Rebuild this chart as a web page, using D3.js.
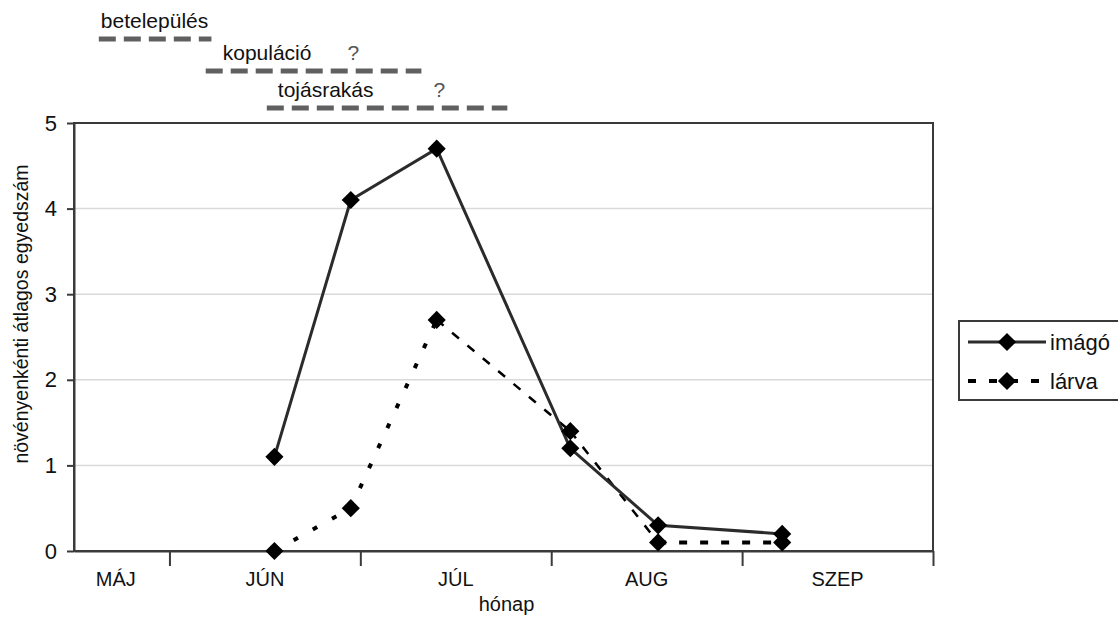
<!DOCTYPE html>
<html>
<head>
<meta charset="utf-8">
<script src="https://cdn.jsdelivr.net/npm/d3@7"></script>
<style>
  body { margin: 0; background: #fff; }
  text { font-family: "Liberation Sans", Arial, sans-serif; fill: #111; }
</style>
</head>
<body>
<svg id="chart" width="1118" height="619"></svg>
<script>
// Months on the time axis (month units: JÚN starts at 1, JÚL at 2, ...)
const months = ["MÁJ", "JÚN", "JÚL", "AUG", "SZEP"];
const monthIndex = [0, 1, 2, 3, 4];
const monthBounds = [1, 2, 3, 4, 5];

// Sampling dates expressed in month units
const sampleMonth = [1.55, 1.95, 2.40, 3.10, 3.56, 4.21];
// Mean number of individuals per plant
const imago = [1.1, 4.1, 4.7, 1.2, 0.3, 0.2];
const larva = [0.0, 0.5, 2.7, 1.4, 0.1, 0.1];

const yTicks = [0, 1, 2, 3, 4, 5];
const seriesNames = ["imágó", "lárva"];

// Phenological phases (start / end in month units)
const phases = ["betelepülés", "kopuláció", "tojásrakás"];
const phaseStart = [0.63, 1.19, 1.51];
const phaseEnd = [1.22, 2.32, 2.77];
const phaseUncertain = [false, true, true];

const svg = d3.select("#chart");
const plot = { left: 74, right: 933, top: 123, bottom: 551 };

const x = d3.scaleLinear().domain([0.5, 5]).range([plot.left, plot.right]);
const y = d3.scaleLinear().domain([0, 5]).range([plot.bottom, plot.top]);

// Horizontal gridlines
svg.append("g").selectAll("line")
  .data(yTicks.filter(t => t > 0 && t < 5))
  .join("line")
  .attr("x1", plot.left).attr("x2", plot.right)
  .attr("y1", d => y(d)).attr("y2", d => y(d))
  .attr("stroke", "#d9d9d9").attr("stroke-width", 1.5);

// Plot frame
svg.append("rect")
  .attr("x", plot.left).attr("y", plot.top)
  .attr("width", plot.right - plot.left).attr("height", plot.bottom - plot.top)
  .attr("fill", "none").attr("stroke", "#3a3a3a").attr("stroke-width", 2);

// Y axis
const yAxis = svg.append("g")
  .attr("transform", `translate(${plot.left},0)`)
  .call(d3.axisLeft(y).tickValues(yTicks).tickSize(7).tickSizeOuter(0).tickPadding(10).tickFormat(d3.format("d")));
yAxis.select(".domain").attr("stroke", "#3a3a3a").attr("stroke-width", 2);
yAxis.selectAll(".tick line").attr("stroke", "#3a3a3a").attr("stroke-width", 2);
yAxis.selectAll(".tick text")
  .style("font-family", "'Liberation Sans', Arial, sans-serif")
  .style("font-size", "22px").attr("fill", "#111");

// X axis: tick marks at month boundaries, labels centred in each month
const xAxis = svg.append("g")
  .attr("transform", `translate(0,${plot.bottom})`)
  .call(d3.axisBottom(x).tickValues(monthBounds).tickSize(15).tickSizeOuter(0).tickFormat(""));
xAxis.select(".domain").attr("stroke", "#3a3a3a").attr("stroke-width", 2);
xAxis.selectAll(".tick line").attr("stroke", "#3a3a3a").attr("stroke-width", 2);

const [d0, d1] = x.domain();
svg.append("g").selectAll("text")
  .data(monthIndex)
  .join("text")
  .attr("x", i => x((Math.max(i, d0) + Math.min(i + 1, d1)) / 2) - (i === 0 ? 6 : 0))
  .attr("y", plot.bottom + 35)
  .attr("text-anchor", "middle")
  .style("font-size", "20px")
  .text(i => months[i]);

// Axis titles
svg.append("text")
  .attr("x", (plot.left + plot.right) / 2 + 3)
  .attr("y", 611)
  .attr("text-anchor", "middle")
  .style("font-size", "20px")
  .text("hónap");

svg.append("text")
  .attr("transform", `translate(28,314) rotate(-90)`)
  .attr("text-anchor", "middle")
  .style("font-size", "19.5px")
  .text("növényenkénti átlagos egyedszám");

// Phase bars above the plot
const phaseRowY = [39, 71, 108];
const phaseG = svg.append("g").selectAll("g")
  .data(d3.range(phases.length))
  .join("g");
phaseG.append("line")
  .attr("x1", i => x(phaseStart[i])).attr("x2", i => x(phaseEnd[i]))
  .attr("y1", i => phaseRowY[i]).attr("y2", i => phaseRowY[i])
  .attr("stroke", "#606060").attr("stroke-width", 5)
  .attr("stroke-dasharray", "17,8");
phaseG.append("text")
  .attr("x", i => x(phaseStart[i]) + [2, 17, 11][i])
  .attr("y", i => phaseRowY[i] - 11)
  .style("font-size", "21px")
  .text(i => phases[i]);
phaseG.filter(i => phaseUncertain[i]).append("text")
  .attr("x", i => x(phaseEnd[i]) - [55, 68, 68][i])
  .attr("y", i => phaseRowY[i] - 11)
  .attr("text-anchor", "middle")
  .style("font-size", "21px")
  .style("fill", "#555")
  .text("?");

// Series lines
const pts = vals => vals.map((v, i) => [x(sampleMonth[i]), y(v)]);
const larvaPts = pts(larva);
const imagoPts = pts(imago);

// lárva: each segment drawn on its own so the dash style can vary
const larvaSegStyle = [
  { w: 4, dash: "5,17" },
  { w: 4, dash: "5,17" },
  { w: 2.5, dash: "9,11" },
  { w: 2.5, dash: "9,11" },
  { w: 4, dash: "8,13" }
];
svg.append("g").selectAll("line")
  .data(d3.pairs(larvaPts))
  .join("line")
  .attr("x1", d => d[0][0]).attr("y1", d => d[0][1])
  .attr("x2", d => d[1][0]).attr("y2", d => d[1][1])
  .attr("stroke", "#000")
  .attr("stroke-width", (d, i) => larvaSegStyle[i].w)
  .attr("stroke-dasharray", (d, i) => larvaSegStyle[i].dash);

svg.append("path")
  .attr("d", d3.line()(imagoPts))
  .attr("fill", "none").attr("stroke", "#2b2b2b").attr("stroke-width", 3);

// Diamond markers
const diamond = d3.symbol(d3.symbolSquare, 165)();
const drawMarkers = list => svg.append("g").selectAll("path")
  .data(list)
  .join("path")
  .attr("d", diamond)
  .attr("transform", d => `translate(${d[0]},${d[1]}) rotate(45)`)
  .attr("fill", "#000");
drawMarkers(larvaPts);
drawMarkers(imagoPts);

// Legend
const lg = svg.append("g");
lg.append("rect")
  .attr("x", 959).attr("y", 321).attr("width", 180).attr("height", 79)
  .attr("fill", "#fff").attr("stroke", "#3a3a3a").attr("stroke-width", 2);
const legendRows = [
  { name: seriesNames[0], y: 342, w: 3, dash: null, color: "#2b2b2b" },
  { name: seriesNames[1], y: 381, w: 4, dash: "8,13", color: "#000" }
];
const rowG = lg.selectAll("g").data(legendRows).join("g");
rowG.append("line")
  .attr("x1", 968).attr("x2", 1046)
  .attr("y1", d => d.y).attr("y2", d => d.y)
  .attr("stroke", d => d.color).attr("stroke-width", d => d.w)
  .attr("stroke-dasharray", d => d.dash);
rowG.append("path")
  .attr("d", diamond)
  .attr("transform", d => `translate(1007,${d.y}) rotate(45)`)
  .attr("fill", "#000");
rowG.append("text")
  .attr("x", 1050).attr("y", d => d.y)
  .attr("dy", "0.35em")
  .style("font-size", "22px")
  .text(d => d.name);
</script>
</body>
</html>
